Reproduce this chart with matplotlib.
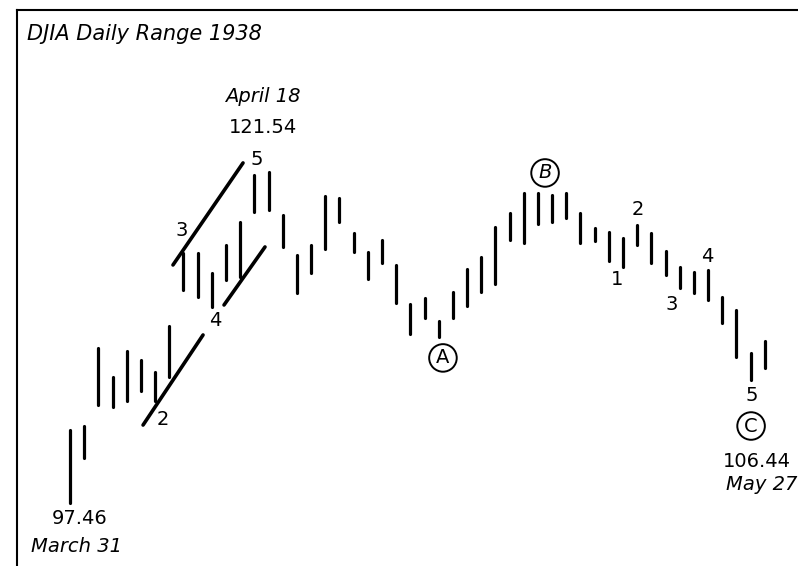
import matplotlib
matplotlib.use("Agg")
import matplotlib.pyplot as plt

# DJIA daily high/low, 31 March - 28 May 1938 (one entry per session)
session = list(range(50))
high = [102.77, 103.06, 108.73, 106.62, 108.51, 107.86, 106.99, 110.33, 115.64, 115.64,
        114.19, 116.22, 117.90, 121.30, 121.54, 118.41, 115.50, 116.22, 119.79, 119.64,
        117.10, 115.71, 116.59, 114.77, 111.93, 112.37, 110.70, 112.81, 114.48, 115.35,
        117.53, 118.55, 120.01, 120.01, 119.86, 120.01, 118.55, 117.46, 117.17, 116.73,
        117.68, 117.10, 115.79, 114.62, 114.26, 114.41, 112.44, 111.50, 108.37, 109.24]
low = [97.46, 100.73, 104.59, 104.44, 104.88, 105.61, 104.88, 106.62, 112.95, 112.44,
       111.71, 113.68, 113.90, 118.62, 118.77, 116.08, 112.73, 114.19, 115.93, 117.90,
       115.71, 113.75, 114.91, 112.01, 109.75, 110.91, 109.53, 110.91, 111.79, 112.81,
       113.39, 116.59, 116.37, 117.75, 117.90, 118.19, 116.37, 116.51, 115.06, 114.62,
       116.22, 114.91, 114.04, 113.10, 112.73, 112.22, 110.55, 108.08, 106.44, 107.28]

title = "DJIA Daily Range 1938"
start_value, start_date = "97.46", "March 31"
top_value, top_date = "121.54", "April 18"
end_value, end_date = "106.44", "May 27"

fig = plt.figure(figsize=(7.98, 5.66), dpi=100)
fig.patch.set_facecolor("white")
# frame open at the right and bottom: the axes run past the figure edge there
ax = fig.add_axes([17 / 798, 0.0, (800 - 17) / 798, (566 - 10) / 566])
ax.set_xlim(-3.74, 51.48)
ax.set_ylim(92.88, 133.31)
for side in ("right", "bottom"):
    ax.spines[side].set_visible(False)
for side in ("top", "left"):
    ax.spines[side].set_linewidth(1.5)
ax.set_xticks([])
ax.set_yticks([])

# daily range bars
ax.vlines(session, low, high, color="black", linewidth=2.3, capstyle="round")

# impulse channel lines
ax.plot([5.15, 9.38], [103.13, 109.68], color="black", lw=2.6, solid_capstyle="round")
ax.plot([10.86, 13.75], [111.86, 116.08], color="black", lw=2.6, solid_capstyle="round")
ax.plot([7.26, 12.2], [114.77, 122.19], color="black", lw=2.6, solid_capstyle="round")

font = "DejaVu Sans"
num_kw = dict(fontsize=14, family=font, ha="center", va="center", color="black")
ita_kw = dict(num_kw, style="italic")

ax.text(-3.03, 131.55, title, fontsize=15, family=font, style="italic",
        ha="left", va="center")

# wave counts, first leg
ax.text(6.56, 103.50, "2", **num_kw)
ax.text(7.90, 117.31, "3", **num_kw)
ax.text(10.23, 110.70, "4", **num_kw)
ax.text(13.19, 122.41, "5", **num_kw)

# wave counts, final leg
ax.text(38.58, 113.68, "1", **num_kw)
ax.text(40.06, 118.77, "2", **num_kw)
ax.text(42.45, 111.93, "3", **num_kw)
ax.text(44.92, 115.35, "4", **num_kw)
ax.text(48.10, 105.31, "5", **num_kw)

# corrective labels
circ = dict(boxstyle="circle,pad=0.22", fc="white", ec="black", lw=1.4)
ax.text(26.30, 108.01, "A", bbox=circ, **num_kw)
ax.text(33.50, 121.46, "B", bbox=circ, **ita_kw)
ax.text(48.03, 103.06, "C", bbox=circ, **num_kw)

# extremes
ax.text(13.61, 126.99, top_date, **ita_kw)
ax.text(13.61, 124.80, top_value, **num_kw)
ax.text(0.71, 96.37, start_value, **num_kw)
ax.text(0.49, 94.33, start_date, **ita_kw)
ax.text(48.45, 100.51, end_value, **num_kw)
ax.text(48.75, 98.84, end_date, **ita_kw)

fig.savefig("out.png", dpi=100, facecolor="white")
